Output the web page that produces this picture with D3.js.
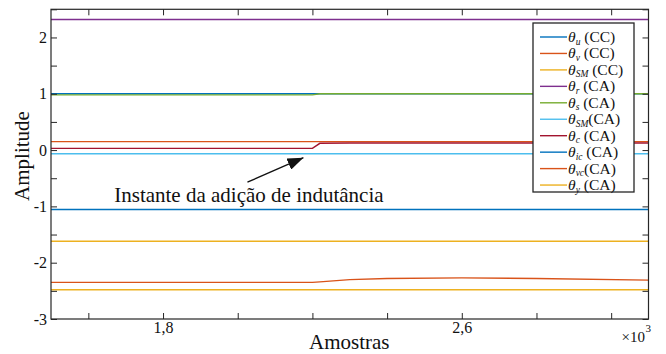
<!DOCTYPE html>
<html>
<head>
<meta charset="utf-8">
<script src="https://cdnjs.cloudflare.com/ajax/libs/d3/7.8.5/d3.min.js"></script>
<style>
  body { margin: 0; background: #fff; }
  svg { display: block; font-family: "Liberation Serif", "Times New Roman", serif; }
</style>
</head>
<body>
<svg id="chart" width="666" height="354"></svg>
<script>
    // amostras onde os valores foram lidos (todas as series usam os mesmos x)
    const sampleX = [1500, 2200, 2220, 2300, 2400, 2600, 2800, 3100];

    const thetaU_CC  = [1.0, 1.0, 1.0, 1.0, 1.0, 1.0, 1.0, 1.0];
    const thetaV_CC  = [0.15, 0.15, 0.15, 0.15, 0.15, 0.15, 0.15, 0.15];
    const thetaSM_CC = [-1.62, -1.62, -1.62, -1.62, -1.62, -1.62, -1.62, -1.62];
    const thetaR_CA  = [2.32, 2.32, 2.32, 2.32, 2.32, 2.32, 2.32, 2.32];
    const thetaS_CA  = [0.98, 0.98, 1.0, 1.0, 1.0, 1.0, 1.0, 1.0];
    const thetaSM_CA = [-0.065, -0.065, -0.065, -0.065, -0.065, -0.065, -0.065, -0.065];
    const thetaC_CA  = [0.03, 0.03, 0.12, 0.125, 0.125, 0.125, 0.125, 0.125];
    const thetaIc_CA = [-1.055, -1.055, -1.055, -1.055, -1.055, -1.055, -1.055, -1.055];
    const thetaVc_CA = [-2.35, -2.35, -2.34, -2.30, -2.28, -2.27, -2.28, -2.31];
    const thetaY_CA  = [-2.48, -2.48, -2.48, -2.48, -2.48, -2.48, -2.48, -2.48];

    // legenda: subscrito e sufixo
    const legendSub    = ["u", "v", "SM", "r", "s", "SM", "c", "ic", "vc", "y"];
    const legendSuffix = [" (CC)", " (CC)", " (CC)", " (CA)", " (CA)", "(CA)", " (CA)", " (CA)", "(CA)", " (CA)"];
    const seriesValues = [thetaU_CC, thetaV_CC, thetaSM_CC, thetaR_CA, thetaS_CA,
                          thetaSM_CA, thetaC_CA, thetaIc_CA, thetaVc_CA, thetaY_CA];
    const colors = ["#0072BD", "#D95319", "#EDB120", "#7E2F8E", "#77AC30",
                    "#4DBEEE", "#A2142F", "#0072BD", "#D95319", "#EDB120"];

    const xTicks = [1600, 1800, 2000, 2200, 2400, 2600, 2800, 3000];
    const xTickLabels = {1800: "1,8", 2600: "2,6"};
    const yTicks = [-3, -2.5, -2, -1.5, -1, -0.5, 0, 0.5, 1, 1.5, 2, 2.5];

    const noteText = "Instante da adição de indutância";
    const notePos = [2030, -0.93];
    const arrowFrom = [2026, -0.57];
    const arrowTo = [2176, -0.135];

    const L = 51, R = 648.5, T = 9.3, B = 319;
    const svg = d3.select("#chart");

    const x = d3.scaleLinear().domain([1500, 3100]).range([L, R]);
    const y = d3.scaleLinear().domain([-3, 2.5]).range([B, T]);

    svg.append("defs").append("clipPath").attr("id", "clip")
        .append("rect").attr("x", L).attr("y", T).attr("width", R - L).attr("height", B - T);

    // series
    const line = d3.line().x(d => x(d[0])).y(d => y(d[1]));
    const plot = svg.append("g").attr("clip-path", "url(#clip)");
    seriesValues.forEach((vals, i) => {
        plot.append("path")
            .datum(sampleX.map((sx, j) => [sx, vals[j]]))
            .attr("d", line)
            .attr("fill", "none")
            .attr("stroke", colors[i])
            .attr("stroke-width", 1.4);
    });

    // eixos (ticks para dentro, caixa fechada)
    const axisColor = "#262626";
    function styleAxis(g) {
        g.attr("font-family", null);
        g.select(".domain").remove();
        g.selectAll(".tick line").attr("stroke", axisColor).attr("stroke-width", 1);
        g.selectAll(".tick text").attr("fill", "#111").attr("font-size", 16);
    }
    svg.append("g").attr("transform", `translate(0,${B})`)
        .call(d3.axisBottom(x).tickValues(xTicks).tickSize(-6).tickPadding(3)
            .tickFormat(d => xTickLabels[d] || ""))
        .call(styleAxis);
    svg.append("g").attr("transform", `translate(0,${T})`)
        .call(d3.axisTop(x).tickValues(xTicks).tickSize(-6).tickFormat(""))
        .call(styleAxis);
    svg.append("g").attr("transform", `translate(${L},0)`)
        .call(d3.axisLeft(y).tickValues(yTicks).tickSize(-6).tickPadding(4)
            .tickFormat(d => Number.isInteger(d) ? String(d) : ""))
        .call(styleAxis);
    svg.append("g").attr("transform", `translate(${R},0)`)
        .call(d3.axisRight(y).tickValues(yTicks).tickSize(-6).tickFormat(""))
        .call(styleAxis);
    svg.append("rect").attr("x", L).attr("y", T).attr("width", R - L).attr("height", B - T)
        .attr("fill", "none").attr("stroke", axisColor).attr("stroke-width", 1.2);

    // x10^3
    svg.append("text").attr("x", 645).attr("y", 342).attr("text-anchor", "end")
        .attr("font-size", 15).attr("fill", "#111").text("×10");
    svg.append("text").attr("x", 645.5).attr("y", 332).attr("font-size", 11).attr("fill", "#111").text("3");

    // titulos dos eixos
    svg.append("text").attr("x", x(2300) - 0.5).attr("y", 349).attr("text-anchor", "middle")
        .attr("font-size", 21).attr("fill", "#111").text("Amostras");
    svg.append("text").attr("transform", "translate(29,156) rotate(-90)").attr("text-anchor", "middle")
        .attr("font-size", 21).attr("fill", "#111").text("Amplitude");

    // anotacao
    svg.append("defs").append("marker").attr("id", "head")
        .attr("viewBox", "0 0 16 12").attr("refX", 16).attr("refY", 6)
        .attr("markerWidth", 16).attr("markerHeight", 12).attr("markerUnits", "userSpaceOnUse")
        .attr("orient", "auto")
        .append("path").attr("d", "M0,0 L16,6 L0,12 Z").attr("fill", "#111");
    svg.append("line")
        .attr("x1", x(arrowFrom[0])).attr("y1", y(arrowFrom[1]))
        .attr("x2", x(arrowTo[0])).attr("y2", y(arrowTo[1]))
        .attr("stroke", "#111").attr("stroke-width", 1.3).attr("marker-end", "url(#head)");
    svg.append("text").attr("x", x(notePos[0])).attr("y", y(notePos[1])).attr("text-anchor", "middle")
        .attr("font-size", 21).attr("fill", "#111").text(noteText);

    // legenda
    const lg = svg.append("g");
    lg.append("rect").attr("x", 533).attr("y", 23).attr("width", 101).attr("height", 169)
        .attr("fill", "#fff").attr("stroke", axisColor).attr("stroke-width", 1.3);
    legendSub.forEach((sub, i) => {
        const cy = 37 + i * 16.45;
        lg.append("line").attr("x1", 540).attr("x2", 567).attr("y1", cy).attr("y2", cy)
            .attr("stroke", colors[i]).attr("stroke-width", 1.4);
        const t = lg.append("text").attr("x", 568).attr("y", cy + 5)
            .attr("font-size", 15.5).attr("fill", "#111");
        t.append("tspan").attr("font-style", "italic").text("θ");
        t.append("tspan").attr("font-style", "italic").attr("font-size", 9.5).attr("dy", 2.5).text(sub);
        t.append("tspan").attr("dy", -2.5).text(legendSuffix[i]);
    });
</script>
</body>
</html>
